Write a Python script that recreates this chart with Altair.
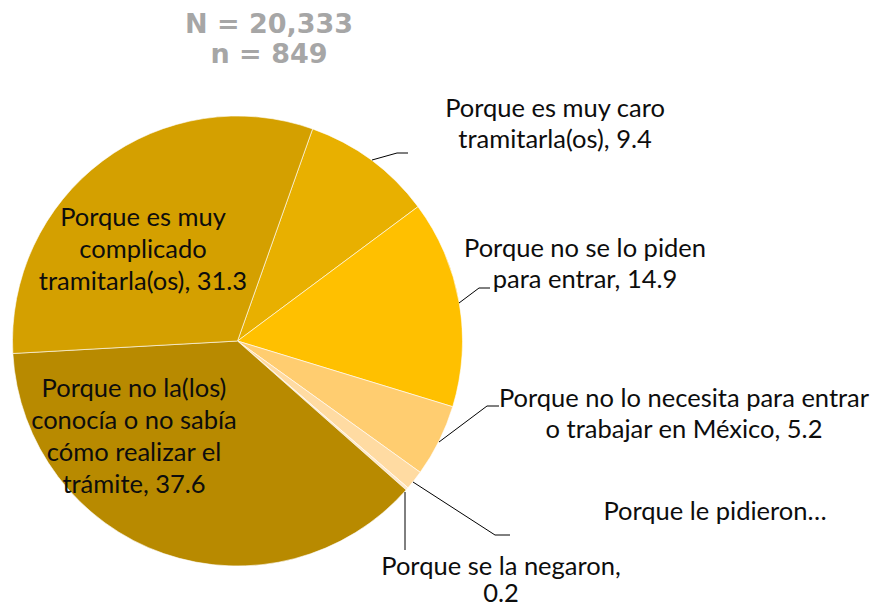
import math
import altair as alt
import pandas as pd

# ---- data ----
categories = [
    "Porque es muy caro tramitarla(os)",
    "Porque no se lo piden para entrar",
    "Porque no lo necesita para entrar o trabajar en México",
    "Porque le pidieron…",
    "Porque se la negaron",
    "Porque no la(los) conocía o no sabía cómo realizar el trámite",
    "Porque es muy complicado tramitarla(os)",
]
values = [9.4, 14.9, 5.2, 1.4, 0.2, 37.6, 31.3]
colors = ["#E8B000", "#FFC000", "#FFCD70", "#FFDBA2", "#FFE8C8", "#B88A00", "#D4A000"]

# label text lines (as printed)
label_lines = [
    ["Porque es muy caro", "tramitarla(os), 9.4"],
    ["Porque no se lo piden", "para entrar, 14.9"],
    ["Porque no lo necesita para entrar", "o trabajar en México, 5.2"],
    ["Porque le pidieron…"],
    ["Porque se la negaron,", "0.2"],
    ["Porque no la(los)", "conocía o no sabía", "cómo realizar el", "trámite, 37.6"],
    ["Porque es muy", "complicado", "tramitarla(os), 31.3"],
]
title_lines = ["N = 20,333", "n = 849"]

# ---- layout (page pixels; chart origin is at page 8,8) ----
M = 8
cx, cy, R = 237.5, 341, 225
start = math.radians(19.5)
label_anchor = [(555, 117), (585, 257), (684, 407), (715, 520), (501, 575), (134, 397), (143, 226)]
label_lh = [31, 31, 31, 31, 27, 32, 32]
leaders = [
    [(372, 160), (397, 153), (408, 153)],
    [(459, 303), (479, 288), (490, 288)],
    [(439, 442), (487, 406), (499, 406)],
    [(413, 482), (495, 535), (510, 535)],
    [(405, 492), (405, 550)],
]

pie_df = pd.DataFrame({
    "cat": categories,
    "value": values,
    "idx": list(range(len(values))),
})

txt_rows = []
for i, lines in enumerate(label_lines):
    ax, ay = label_anchor[i]
    for j, t in enumerate(lines):
        txt_rows.append({"t": t, "x": ax - M, "y": ay + j * label_lh[i] - M})
txt_df = pd.DataFrame(txt_rows)

ttl_df = pd.DataFrame({
    "t": title_lines,
    "x": [269 - M, 269 - M],
    "y": [33 - M, 63 - M],
})

seg_rows = []
for k, pts in enumerate(leaders):
    for a, b in zip(pts[:-1], pts[1:]):
        seg_rows.append({"x": a[0] - M, "y": a[1] - M, "x2": b[0] - M, "y2": b[1] - M})
seg_df = pd.DataFrame(seg_rows)

pie = alt.Chart(pie_df).mark_arc(
    radius=R, stroke="#FFFFFF", strokeWidth=0.6
).encode(
    theta=alt.Theta("value:Q", stack=True,
                    scale=alt.Scale(range=[start, start + 2 * math.pi])),
    order=alt.Order("idx:Q"),
    color=alt.Color("cat:N", scale=alt.Scale(domain=categories, range=colors), legend=None),
    x=alt.value(cx - M),
    y=alt.value(cy - M),
)

labels = alt.Chart(txt_df).mark_text(
    font="Lato", fontSize=25.5, color="#0D0D0D", align="center", baseline="alphabetic"
).encode(
    x=alt.X("x:Q", scale=None),
    y=alt.Y("y:Q", scale=None),
    text="t:N",
)

title = alt.Chart(ttl_df).mark_text(
    font="DejaVu Sans", fontWeight="bold", fontSize=27, color="#A6A6A6",
    align="center", baseline="alphabetic"
).encode(
    x=alt.X("x:Q", scale=None),
    y=alt.Y("y:Q", scale=None),
    text="t:N",
)

rules = alt.Chart(seg_df).mark_rule(color="#000000", strokeWidth=1).encode(
    x=alt.X("x:Q", scale=None),
    y=alt.Y("y:Q", scale=None),
    x2="x2:Q",
    y2="y2:Q",
)

chart = alt.layer(pie, rules, labels, title).properties(
    width=862, height=599, padding=0, autosize="none"
).configure_view(stroke=None)

chart.save("out.html", embed_options={"renderer": "svg", "actions": False})
